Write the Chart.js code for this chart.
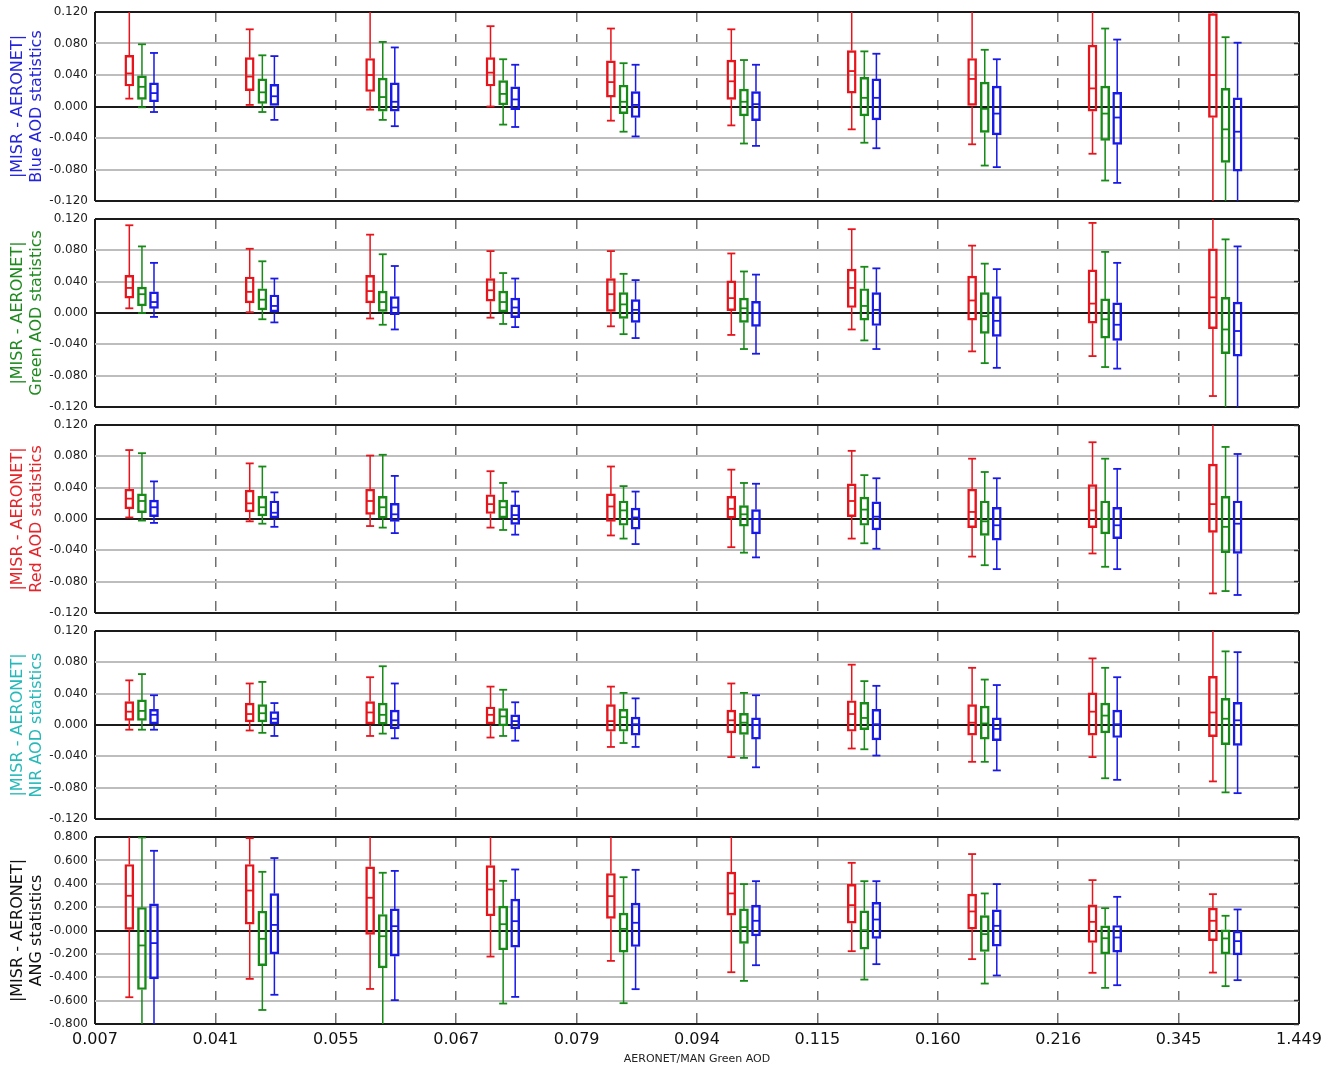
<!DOCTYPE html>
<html>
<head>
<meta charset="utf-8">
<title>MISR - AERONET statistics</title>
<script src="https://cdn.jsdelivr.net/npm/chart.js@4.4.0/dist/chart.umd.min.js"></script>
<style>
  body { margin: 0; background: #fff; }
  .panel { position: absolute; left: 0; width: 1337px; }
</style>
</head>
<body>
<div class="panel" style="top:2px;height:208px"><canvas id="p0"></canvas></div>
<div class="panel" style="top:209px;height:207px"><canvas id="p1"></canvas></div>
<div class="panel" style="top:415px;height:207px"><canvas id="p2"></canvas></div>
<div class="panel" style="top:621px;height:207px"><canvas id="p3"></canvas></div>
<div class="panel" style="top:827px;height:242px"><canvas id="p4"></canvas></div>
<script>
// bin edges on the x axis (AERONET/MAN green AOD)
const binEdgeLabels = ['0.007', '0.041', '0.055', '0.067', '0.079', '0.094', '0.115', '0.160', '0.216', '0.345', '1.449'];

// each entry: [low whisker, q1, median, q3, high whisker], one per bin
const blueAodRed = [
  [0.010, 0.026, 0.042, 0.065, 0.150], [0.002, 0.020, 0.038, 0.062, 0.098],
  [-0.004, 0.019, 0.040, 0.061, 0.150], [0.000, 0.026, 0.043, 0.062, 0.102],
  [-0.018, 0.012, 0.031, 0.058, 0.099], [-0.024, 0.009, 0.032, 0.059, 0.098],
  [-0.029, 0.017, 0.045, 0.071, 0.150], [-0.048, 0.000, 0.035, 0.061, 0.150],
  [-0.060, -0.006, 0.023, 0.078, 0.150], [-0.150, -0.014, 0.040, 0.118, 0.150]];
const blueAodGreen = [
  [-0.001, 0.009, 0.025, 0.039, 0.079], [-0.007, 0.004, 0.018, 0.035, 0.065],
  [-0.017, -0.006, 0.012, 0.036, 0.082], [-0.023, 0.002, 0.016, 0.033, 0.060],
  [-0.032, -0.009, 0.006, 0.027, 0.055], [-0.047, -0.012, 0.006, 0.022, 0.059],
  [-0.046, -0.012, 0.011, 0.037, 0.070], [-0.075, -0.033, -0.003, 0.031, 0.072],
  [-0.094, -0.043, -0.009, 0.026, 0.099], [-0.150, -0.071, -0.029, 0.023, 0.088]];
const blueAodBlue = [
  [-0.007, 0.006, 0.017, 0.030, 0.068], [-0.017, 0.000, 0.013, 0.028, 0.064],
  [-0.025, -0.006, 0.006, 0.030, 0.075], [-0.026, -0.004, 0.009, 0.025, 0.053],
  [-0.038, -0.014, 0.002, 0.019, 0.053], [-0.050, -0.018, 0.003, 0.019, 0.053],
  [-0.053, -0.017, 0.011, 0.035, 0.067], [-0.077, -0.036, -0.009, 0.026, 0.060],
  [-0.097, -0.048, -0.014, 0.018, 0.085], [-0.150, -0.082, -0.032, 0.011, 0.081]];

const greenAodRed = [
  [0.006, 0.019, 0.032, 0.048, 0.112], [0.001, 0.013, 0.027, 0.046, 0.082],
  [-0.007, 0.013, 0.028, 0.048, 0.100], [-0.006, 0.015, 0.029, 0.044, 0.079],
  [-0.017, 0.002, 0.024, 0.044, 0.079], [-0.028, 0.003, 0.019, 0.041, 0.076],
  [-0.021, 0.007, 0.032, 0.056, 0.107], [-0.049, -0.009, 0.016, 0.047, 0.086],
  [-0.055, -0.013, 0.012, 0.055, 0.115], [-0.106, -0.020, 0.020, 0.082, 0.150]];
const greenAodGreen = [
  [0.000, 0.009, 0.024, 0.033, 0.085], [-0.008, 0.004, 0.017, 0.031, 0.066],
  [-0.015, 0.002, 0.014, 0.028, 0.075], [-0.014, 0.000, 0.014, 0.028, 0.051],
  [-0.027, -0.007, 0.011, 0.026, 0.050], [-0.046, -0.012, 0.006, 0.019, 0.053],
  [-0.035, -0.009, 0.009, 0.031, 0.059], [-0.064, -0.026, -0.004, 0.026, 0.063],
  [-0.069, -0.032, -0.008, 0.018, 0.078], [-0.150, -0.052, -0.021, 0.020, 0.094]];
const greenAodBlue = [
  [-0.005, 0.006, 0.014, 0.027, 0.064], [-0.012, 0.000, 0.009, 0.023, 0.044],
  [-0.021, -0.002, 0.007, 0.021, 0.060], [-0.018, -0.006, 0.007, 0.019, 0.044],
  [-0.032, -0.012, 0.004, 0.017, 0.042], [-0.052, -0.017, 0.000, 0.015, 0.049],
  [-0.046, -0.016, 0.004, 0.026, 0.057], [-0.070, -0.030, -0.010, 0.021, 0.056],
  [-0.071, -0.035, -0.015, 0.013, 0.064], [-0.150, -0.055, -0.023, 0.014, 0.085]];

const redAodRed = [
  [0.002, 0.013, 0.026, 0.038, 0.088], [-0.003, 0.009, 0.020, 0.037, 0.071],
  [-0.009, 0.006, 0.023, 0.038, 0.081], [-0.011, 0.007, 0.019, 0.031, 0.061],
  [-0.021, -0.003, 0.016, 0.032, 0.067], [-0.036, 0.001, 0.013, 0.029, 0.063],
  [-0.025, 0.003, 0.023, 0.045, 0.087], [-0.048, -0.011, 0.009, 0.038, 0.077],
  [-0.044, -0.011, 0.011, 0.044, 0.098], [-0.095, -0.017, 0.019, 0.070, 0.150]];
const redAodGreen = [
  [-0.002, 0.008, 0.023, 0.032, 0.084], [-0.006, 0.004, 0.015, 0.029, 0.067],
  [-0.011, 0.001, 0.015, 0.029, 0.082], [-0.014, 0.000, 0.015, 0.024, 0.046],
  [-0.025, -0.008, 0.011, 0.023, 0.042], [-0.043, -0.009, 0.006, 0.017, 0.046],
  [-0.031, -0.008, 0.012, 0.028, 0.056], [-0.059, -0.021, -0.003, 0.023, 0.060],
  [-0.061, -0.019, 0.000, 0.023, 0.077], [-0.092, -0.043, -0.010, 0.029, 0.092]];
const redAodBlue = [
  [-0.005, 0.003, 0.015, 0.024, 0.048], [-0.010, 0.000, 0.008, 0.023, 0.034],
  [-0.018, -0.003, 0.006, 0.020, 0.055], [-0.020, -0.007, 0.005, 0.018, 0.035],
  [-0.032, -0.013, 0.002, 0.014, 0.035], [-0.049, -0.019, 0.000, 0.012, 0.045],
  [-0.038, -0.014, 0.003, 0.022, 0.052], [-0.064, -0.027, -0.008, 0.015, 0.052],
  [-0.064, -0.025, -0.008, 0.015, 0.064], [-0.097, -0.044, -0.006, 0.023, 0.083]];

const nirAodRed = [
  [-0.006, 0.006, 0.017, 0.030, 0.057], [-0.007, 0.004, 0.014, 0.028, 0.053],
  [-0.014, 0.000, 0.016, 0.030, 0.061], [-0.016, 0.000, 0.013, 0.023, 0.049],
  [-0.028, -0.008, 0.005, 0.026, 0.049], [-0.041, -0.010, 0.006, 0.019, 0.053],
  [-0.030, -0.008, 0.014, 0.031, 0.077], [-0.047, -0.013, 0.003, 0.026, 0.073],
  [-0.041, -0.013, 0.017, 0.041, 0.085], [-0.072, -0.015, 0.016, 0.062, 0.150]];
const nirAodGreen = [
  [-0.006, 0.006, 0.018, 0.032, 0.065], [-0.010, 0.004, 0.015, 0.026, 0.055],
  [-0.011, 0.001, 0.013, 0.028, 0.075], [-0.014, -0.001, 0.011, 0.021, 0.045],
  [-0.023, -0.008, 0.010, 0.020, 0.041], [-0.042, -0.012, 0.003, 0.015, 0.041],
  [-0.031, -0.006, 0.009, 0.029, 0.056], [-0.047, -0.018, 0.002, 0.024, 0.058],
  [-0.068, -0.010, 0.012, 0.028, 0.073], [-0.086, -0.025, 0.008, 0.034, 0.094]];
const nirAodBlue = [
  [-0.006, 0.000, 0.013, 0.020, 0.038], [-0.014, 0.000, 0.008, 0.017, 0.028],
  [-0.017, -0.005, 0.006, 0.019, 0.053], [-0.020, -0.005, 0.005, 0.013, 0.029],
  [-0.028, -0.013, 0.001, 0.010, 0.034], [-0.054, -0.018, 0.000, 0.009, 0.038],
  [-0.039, -0.019, 0.001, 0.020, 0.050], [-0.058, -0.020, -0.005, 0.009, 0.051],
  [-0.070, -0.016, 0.001, 0.019, 0.061], [-0.087, -0.026, 0.006, 0.029, 0.093]];

const angRed = [
  [-0.571, 0.009, 0.297, 0.565, 0.950], [-0.414, 0.054, 0.342, 0.565, 0.790],
  [-0.500, -0.034, 0.280, 0.545, 0.950], [-0.223, 0.126, 0.351, 0.556, 0.950],
  [-0.260, 0.103, 0.294, 0.488, 0.950], [-0.357, 0.131, 0.317, 0.500, 0.950],
  [-0.177, 0.063, 0.217, 0.394, 0.579], [-0.245, 0.011, 0.163, 0.311, 0.654],
  [-0.362, -0.103, 0.074, 0.220, 0.431], [-0.360, -0.086, 0.083, 0.191, 0.311]];
const angGreen = [
  [-0.950, -0.505, -0.128, 0.197, 0.796], [-0.680, -0.300, -0.071, 0.165, 0.502],
  [-0.950, -0.320, -0.049, 0.137, 0.494], [-0.625, -0.165, 0.054, 0.208, 0.425],
  [-0.622, -0.185, 0.014, 0.148, 0.456], [-0.431, -0.111, 0.029, 0.185, 0.397],
  [-0.420, -0.160, 0.003, 0.168, 0.422], [-0.454, -0.180, -0.031, 0.128, 0.317],
  [-0.491, -0.200, -0.066, 0.040, 0.191], [-0.476, -0.200, -0.068, 0.006, 0.126]];
const angBlue = [
  [-0.950, -0.414, -0.108, 0.228, 0.682], [-0.550, -0.200, 0.048, 0.316, 0.620],
  [-0.596, -0.220, 0.037, 0.185, 0.510], [-0.568, -0.143, 0.080, 0.268, 0.522],
  [-0.502, -0.137, 0.066, 0.234, 0.519], [-0.297, -0.046, 0.083, 0.217, 0.422],
  [-0.288, -0.068, 0.094, 0.240, 0.422], [-0.385, -0.134, 0.040, 0.177, 0.397],
  [-0.468, -0.185, -0.060, 0.043, 0.288], [-0.425, -0.208, -0.091, -0.006, 0.180]];

// where the three boxes sit inside a bin (fraction of the bin width)
const boxOffsets = [0.285, 0.39, 0.49];
const seriesColors = ['#e8141c', '#178a17', '#1a1ae6'];

const panels = [
  { id: 'p0', name: 'Blue AOD statistics', color: '#2424dc', series: [blueAodRed, blueAodGreen, blueAodBlue], lim: 0.12, step: 0.04, zero: '0.000' },
  { id: 'p1', name: 'Green AOD statistics', color: '#1f8a1f', series: [greenAodRed, greenAodGreen, greenAodBlue], lim: 0.12, step: 0.04, zero: '0.000' },
  { id: 'p2', name: 'Red AOD statistics', color: '#e5242a', series: [redAodRed, redAodGreen, redAodBlue], lim: 0.12, step: 0.04, zero: '0.000' },
  { id: 'p3', name: 'NIR AOD statistics', color: '#27b9b9', series: [nirAodRed, nirAodGreen, nirAodBlue], lim: 0.12, step: 0.04, zero: '0.000' },
  { id: 'p4', name: 'ANG statistics', color: '#111111', series: [angRed, angGreen, angBlue], lim: 0.8, step: 0.2, zero: '-0.000' }
];

const FONT = '"DejaVu Sans", sans-serif';

function buildDatasets(series) {
  const sets = [];
  series.forEach((stats, k) => {
    const color = seriesColors[k];
    const pos = i => i + boxOffsets[k];
    // box q1..q3 as a floating bar
    sets.push({
      type: 'bar',
      data: stats.map((s, i) => ({ x: pos(i), y: [s[1], s[3]] })),
      borderColor: color,
      backgroundColor: 'rgba(0,0,0,0)',
      borderWidth: 1.8,
      borderSkipped: false,
      grouped: false,
      barThickness: 9,
      clip: 0
    });
    // whiskers, broken between bins
    const whisk = [];
    stats.forEach((s, i) => {
      whisk.push({ x: pos(i), y: s[0] }, { x: pos(i), y: s[1] }, { x: pos(i), y: null },
                 { x: pos(i), y: s[3] }, { x: pos(i), y: s[4] }, { x: pos(i), y: null });
    });
    sets.push({
      type: 'line', data: whisk, borderColor: color, borderWidth: 1.5,
      pointRadius: 0, fill: false, spanGaps: false, tension: 0, clip: 0
    });
    // caps and median ticks
    const marks = [];
    stats.forEach((s, i) => {
      marks.push({ x: pos(i), y: s[0] }, { x: pos(i), y: s[2] }, { x: pos(i), y: s[4] });
    });
    sets.push({
      type: 'scatter', data: marks, pointStyle: 'line', pointRadius: 4,
      pointBorderWidth: 1.8, borderColor: color, pointBorderColor: color, clip: 0
    });
  });
  return sets;
}

panels.forEach((p, n) => {
  const isLast = n === panels.length - 1;
  new Chart(document.getElementById(p.id), {
    type: 'bar',
    data: { datasets: buildDatasets(p.series) },
    options: {
      responsive: true,
      maintainAspectRatio: false,
      animation: false,
      events: [],
      layout: { padding: { top: 10, bottom: isLast ? 0 : 9, left: 0, right: 38 } },
      plugins: { legend: { display: false }, tooltip: { enabled: false } },
      scales: {
        x: {
          type: 'linear', min: 0, max: 10, offset: false,
          ticks: {
            stepSize: 1, display: isLast, autoSkip: false, maxRotation: 0, padding: 6,
            font: { family: FONT, size: 16 }, color: '#111',
            callback: v => binEdgeLabels[v]
          },
          grid: {
            offset: false, drawTicks: false,
            color: c => (c.tick && (c.tick.value === 0 || c.tick.value === 10)) ? '#1a1a1a' : '#707070',
            lineWidth: c => (c.tick && (c.tick.value === 0 || c.tick.value === 10)) ? 2 : 1.5
          },
          border: {
            display: false,
            dash: c => (c.tick && (c.tick.value === 0 || c.tick.value === 10)) ? [] : [10, 12]
          },
          title: {
            display: isLast, text: 'AERONET/MAN Green AOD', color: '#222',
            font: { family: FONT, size: 11 }, padding: { top: 0, bottom: 3 }
          },
          afterFit: s => { s.height = isLast ? 45 : 0; }
        },
        y: {
          min: -p.lim, max: p.lim,
          ticks: {
            stepSize: p.step, padding: 0, color: '#222',
            font: { family: FONT, size: 12 },
            callback: v => Math.abs(v) < 1e-9 ? p.zero : v.toFixed(3)
          },
          grid: {
            drawTicks: true,
            tickLength: 7,
            tickColor: 'rgba(0,0,0,0)',
            lineWidth: 2,
            color: c => {
              const v = c.tick ? c.tick.value : 1;
              if (Math.abs(v) < 1e-9) return '#1a1a1a';
              if (Math.abs(Math.abs(v) - p.lim) < 1e-9) return '#1a1a1a';
              return '#bdbdbd';
            }
          },
          border: { display: false },
          title: {
            display: true, text: ['|MISR - AERONET|', p.name], color: p.color,
            font: { family: FONT, size: 16 }, padding: { top: 8, bottom: 0 }
          },
          afterFit: s => { s.width = 95; }
        },
        // short inward tick marks on the right frame
        yRight: {
          position: 'right', min: -p.lim, max: p.lim,
          ticks: { stepSize: p.step, display: false },
          grid: { drawOnChartArea: false, drawTicks: true, tickLength: -5, tickColor: '#333', tickWidth: 1.5 },
          border: { display: false },
          afterFit: s => { s.width = 0; }
        }
      }
    }
  });
});
</script>
</body>
</html>
